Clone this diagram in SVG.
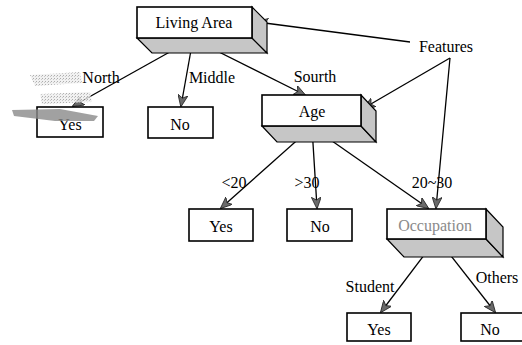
<svg xmlns="http://www.w3.org/2000/svg" width="522" height="345" viewBox="0 0 522 345">
<defs>
<style>
.box{fill:#fff;stroke:#000;stroke-width:1.6}
.side{fill:#c6c6c6;stroke:#000;stroke-width:1.2}
.edge{stroke:#000;stroke-width:1.3;fill:none;marker-end:url(#ah)}
text{font-family:'Liberation Serif','DejaVu Serif','Times New Roman',serif;font-size:16px;fill:#000;text-anchor:middle}
</style>
<marker id="ah" viewBox="0 0 12 10" refX="11" refY="5" markerWidth="12" markerHeight="10" markerUnits="userSpaceOnUse" orient="auto">
<path d="M0,0 L12,5 L0,10 L3,5 Z" fill="#6a6a6a" stroke="#222" stroke-width="0.8"/>
</marker>
<pattern id="dots" width="3" height="3" patternUnits="userSpaceOnUse">
<rect width="3" height="3" fill="#eee"/>
<rect width="1" height="1" fill="#999"/>
<rect x="2" y="1" width="1" height="1" fill="#bbb"/>
</pattern>
</defs>
<rect width="522" height="345" fill="#fff"/>

<g id="connectors">
<line class="edge" x1="193" y1="39" x2="73" y2="106"/>
<line class="edge" x1="193" y1="39" x2="181" y2="106"/>
<line class="edge" x1="193" y1="39" x2="305" y2="95"/>
<line class="edge" x1="410" y1="42" x2="257" y2="22"/>
<line class="edge" x1="450" y1="58" x2="364" y2="108"/>
<line class="edge" x1="450" y1="58" x2="436" y2="208"/>
<line class="edge" x1="312" y1="127" x2="221" y2="208"/>
<line class="edge" x1="312" y1="127" x2="317" y2="208"/>
<line class="edge" x1="312" y1="127" x2="428" y2="208"/>
<line class="edge" x1="437" y1="238" x2="381" y2="312"/>
<line class="edge" x1="437" y1="238" x2="495" y2="312"/>
</g>

<g id="n-living">
<path class="side" d="M137,38 L152,53 L267,53 L252,38 Z"/>
<path class="side" d="M252,7 L267,22 L267,53 L252,38 Z"/>
<rect class="box" x="137" y="7" width="115" height="31"/>
<text x="194" y="28">Living Area</text>
</g>

<g id="features">
<text x="446" y="52">Features</text>
</g>

<g id="n-yes1">
<rect class="box" x="37" y="107" width="66" height="30"/>
<text x="70" y="130">Yes</text>
</g>

<g id="smudge">
<path d="M30,75 L80,72 L82,83 L35,86 Z" fill="url(#dots)" opacity="0.8"/>
<path d="M40,94 L90,92 L92,102 L42,104 Z" fill="url(#dots)" opacity="0.8"/>
<path d="M12,110 L60,109 L98,116 L94,121 L55,121 L14,116 Z" fill="#8a8a8a" opacity="0.8"/>
</g>

<g id="n-no1">
<rect class="box" x="148" y="107" width="65" height="31"/>
<text x="180" y="130">No</text>
</g>

<g id="n-age">
<path class="side" d="M262,126 L277,142 L376,142 L361,126 Z"/>
<path class="side" d="M361,95 L376,111 L376,142 L361,126 Z"/>
<rect class="box" x="262" y="95" width="99" height="31"/>
<text x="312" y="117">Age</text>
</g>

<g id="n-yes2">
<rect class="box" x="189" y="209" width="64" height="32"/>
<text x="221" y="232">Yes</text>
</g>

<g id="n-no2">
<rect class="box" x="287" y="209" width="65" height="32"/>
<text x="320" y="232">No</text>
</g>

<g id="n-occupation">
<path class="side" d="M387,239 L404,257 L503,257 L486,239 Z"/>
<path class="side" d="M486,209 L503,227 L503,257 L486,239 Z"/>
<rect class="box" x="387" y="209" width="99" height="30"/>
<text x="435" y="231" style="fill:#8a8a8a">Occupation</text>
</g>

<g id="n-yes3">
<rect class="box" x="347" y="313" width="64" height="28"/>
<text x="379" y="335">Yes</text>
</g>

<g id="n-no3">
<rect class="box" x="461" y="313" width="62" height="28"/>
<text x="490" y="335">No</text>
</g>

<g id="labels">
<text x="101" y="83">North</text>
<text x="212" y="83">Middle</text>
<text x="315" y="82">Sourth</text>
<text x="234" y="188">&lt;20</text>
<text x="307" y="188">&gt;30</text>
<text x="432" y="188">20~30</text>
<text x="370" y="292">Student</text>
<text x="497" y="283">Others</text>
</g>
</svg>
